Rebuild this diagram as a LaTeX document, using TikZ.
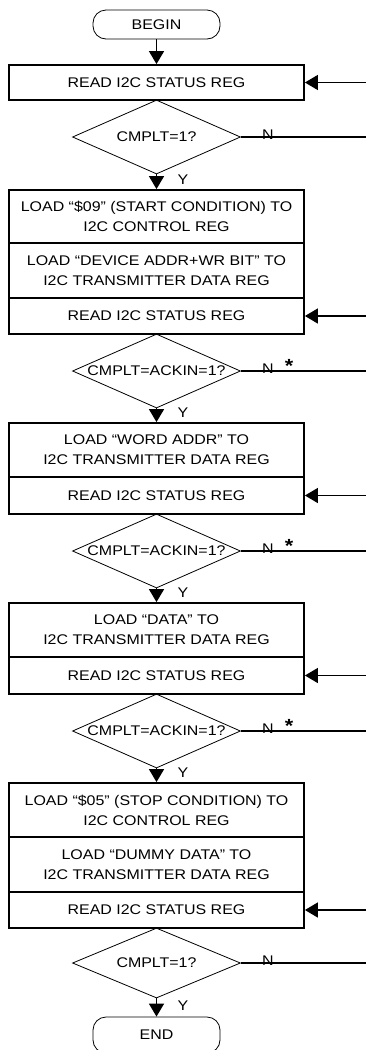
\documentclass[tikz,border=0pt]{standalone}
\usepackage{fontspec}
\setmainfont{Liberation Sans}[FakeStretch=1.14]
\usetikzlibrary{shapes.geometric,arrows.meta}
\begin{document}
\begin{tikzpicture}[x=1pt,y=-1pt,
  txt/.style={font=\fontsize{14}{20}\selectfont},
  box/.style={draw,line width=1.8pt,minimum width=295pt,inner sep=0pt,align=center,txt},
  dia/.style={draw,shape=diamond,line width=0.8pt,minimum width=168pt,minimum height=74pt,inner sep=0pt},
  term/.style={draw,line width=0.8pt,rounded corners=13pt,minimum width=127pt,minimum height=29pt,inner sep=0pt,txt},
  arr/.style={line width=1.4pt,-{Triangle[length=13pt,width=15pt]}},
  conn/.style={line width=1.4pt},
  lab/.style={txt,inner sep=0pt,anchor=base},
  star/.style={font=\fontsize{19}{19}\selectfont\bfseries,inner sep=0pt,anchor=base}]
\useasboundingbox (0,0) rectangle (366,1050);
\clip (0,0) rectangle (366,1050);
% terminals
\node[term] (begin) at (156.5,24.5) {BEGIN};
\node[term,minimum height=36pt] (end) at (156.5,1035) {END};
% boxes
\node[box,minimum height=35pt] (b1) at (156.5,82.5) {READ I2C STATUS REG};
\node[box,minimum height=53pt] (b2a) at (156.5,216.5) {LOAD “\$09” (START CONDITION) TO\\I2C CONTROL REG};
\node[box,minimum height=55pt] (b2b) at (156.5,270.5) {LOAD “DEVICE ADDR+WR BIT” TO\\I2C TRANSMITTER DATA REG};
\node[box,minimum height=36pt] (b2c) at (156.5,316) {READ I2C STATUS REG};
\node[box,minimum height=54pt] (b3a) at (156.5,450) {LOAD “WORD ADDR” TO\\I2C TRANSMITTER DATA REG};
\node[box,minimum height=37pt] (b3b) at (156.5,495.5) {READ I2C STATUS REG};
\node[box,minimum height=54pt] (b4a) at (156.5,630) {LOAD “DATA” TO\\I2C TRANSMITTER DATA REG};
\node[box,minimum height=37pt] (b4b) at (156.5,675.5) {READ I2C STATUS REG};
\node[box,minimum height=54pt] (b5a) at (156.5,810) {LOAD “\$05” (STOP CONDITION) TO\\I2C CONTROL REG};
\node[box,minimum height=55pt] (b5b) at (156.5,864.5) {LOAD “DUMMY DATA” TO\\I2C TRANSMITTER DATA REG};
\node[box,minimum height=36pt] (b5c) at (156.5,910) {READ I2C STATUS REG};
% decisions
\node[dia] (d1) at (156.5,137) {};
\node[txt,inner sep=0pt] (t1) at (d1.center) {CMPLT=1?};
\node[dia] (d2) at (156.5,371) {};
\node[txt,inner sep=0pt] (t2) at (d2.center) {CMPLT=ACKIN=1?};
\node[dia] (d3) at (156.5,551) {};
\node[txt,inner sep=0pt] (t3) at (d3.center) {CMPLT=ACKIN=1?};
\node[dia] (d4) at (156.5,731) {};
\node[txt,inner sep=0pt] (t4) at (d4.center) {CMPLT=ACKIN=1?};
\node[dia,minimum height=70pt] (d5) at (156.5,963) {};
\node[txt,inner sep=0pt] (t5) at (d5.center) {CMPLT=1?};
% main flow arrows
\draw[arr] (begin.south) -- (b1.north);
\draw[arr] (d1.south) -- (b2a.north);
\draw[arr] (d2.south) -- (b3a.north);
\draw[arr] (d3.south) -- (b4a.north);
\draw[arr] (d4.south) -- (b5a.north);
\draw[arr] (d5.south) -- (end.north);
% Y labels
\node[lab] (y1) at (183,184) {Y};
\node[lab] (y2) at (183,417) {Y};
\node[lab] (y3) at (183,597) {Y};
\node[lab] (y4) at (183,777) {Y};
\node[lab] (y5) at (183,1010) {Y};
% right side return arrows
\coordinate (r1) at (370,82.5);
\coordinate (r2) at (370,316);
\coordinate (r3) at (370,495.5);
\coordinate (r4) at (370,675.5);
\coordinate (r5) at (370,910);
\draw[arr] (r1) -- (b1.east);
\draw[arr] (r2) -- (b2c.east);
\draw[arr] (r3) -- (b3b.east);
\draw[arr] (r4) -- (b4b.east);
\draw[arr] (r5) -- (b5c.east);
% N exits
\coordinate (n1) at (370,137);
\coordinate (n2) at (370,371);
\coordinate (n3) at (370,551);
\coordinate (n4) at (370,731);
\coordinate (n5) at (370,963);
\draw[conn] (d1.east) -- (n1);
\draw[conn] (d2.east) -- (n2);
\draw[conn] (d3.east) -- (n3);
\draw[conn] (d4.east) -- (n4);
\draw[conn] (d5.east) -- (n5);
\node[lab] (nl1) at (268,139) {N};
\node[lab] (nl2) at (268,373) {N};
\node[lab] (nl3) at (268,553) {N};
\node[lab] (nl4) at (268,733) {N};
\node[lab] (nl5) at (268,965) {N};
\node[star] (s2) at (289,372) {*};
\node[star] (s3) at (289,552) {*};
\node[star] (s4) at (289,732) {*};
\end{tikzpicture}
\end{document}
